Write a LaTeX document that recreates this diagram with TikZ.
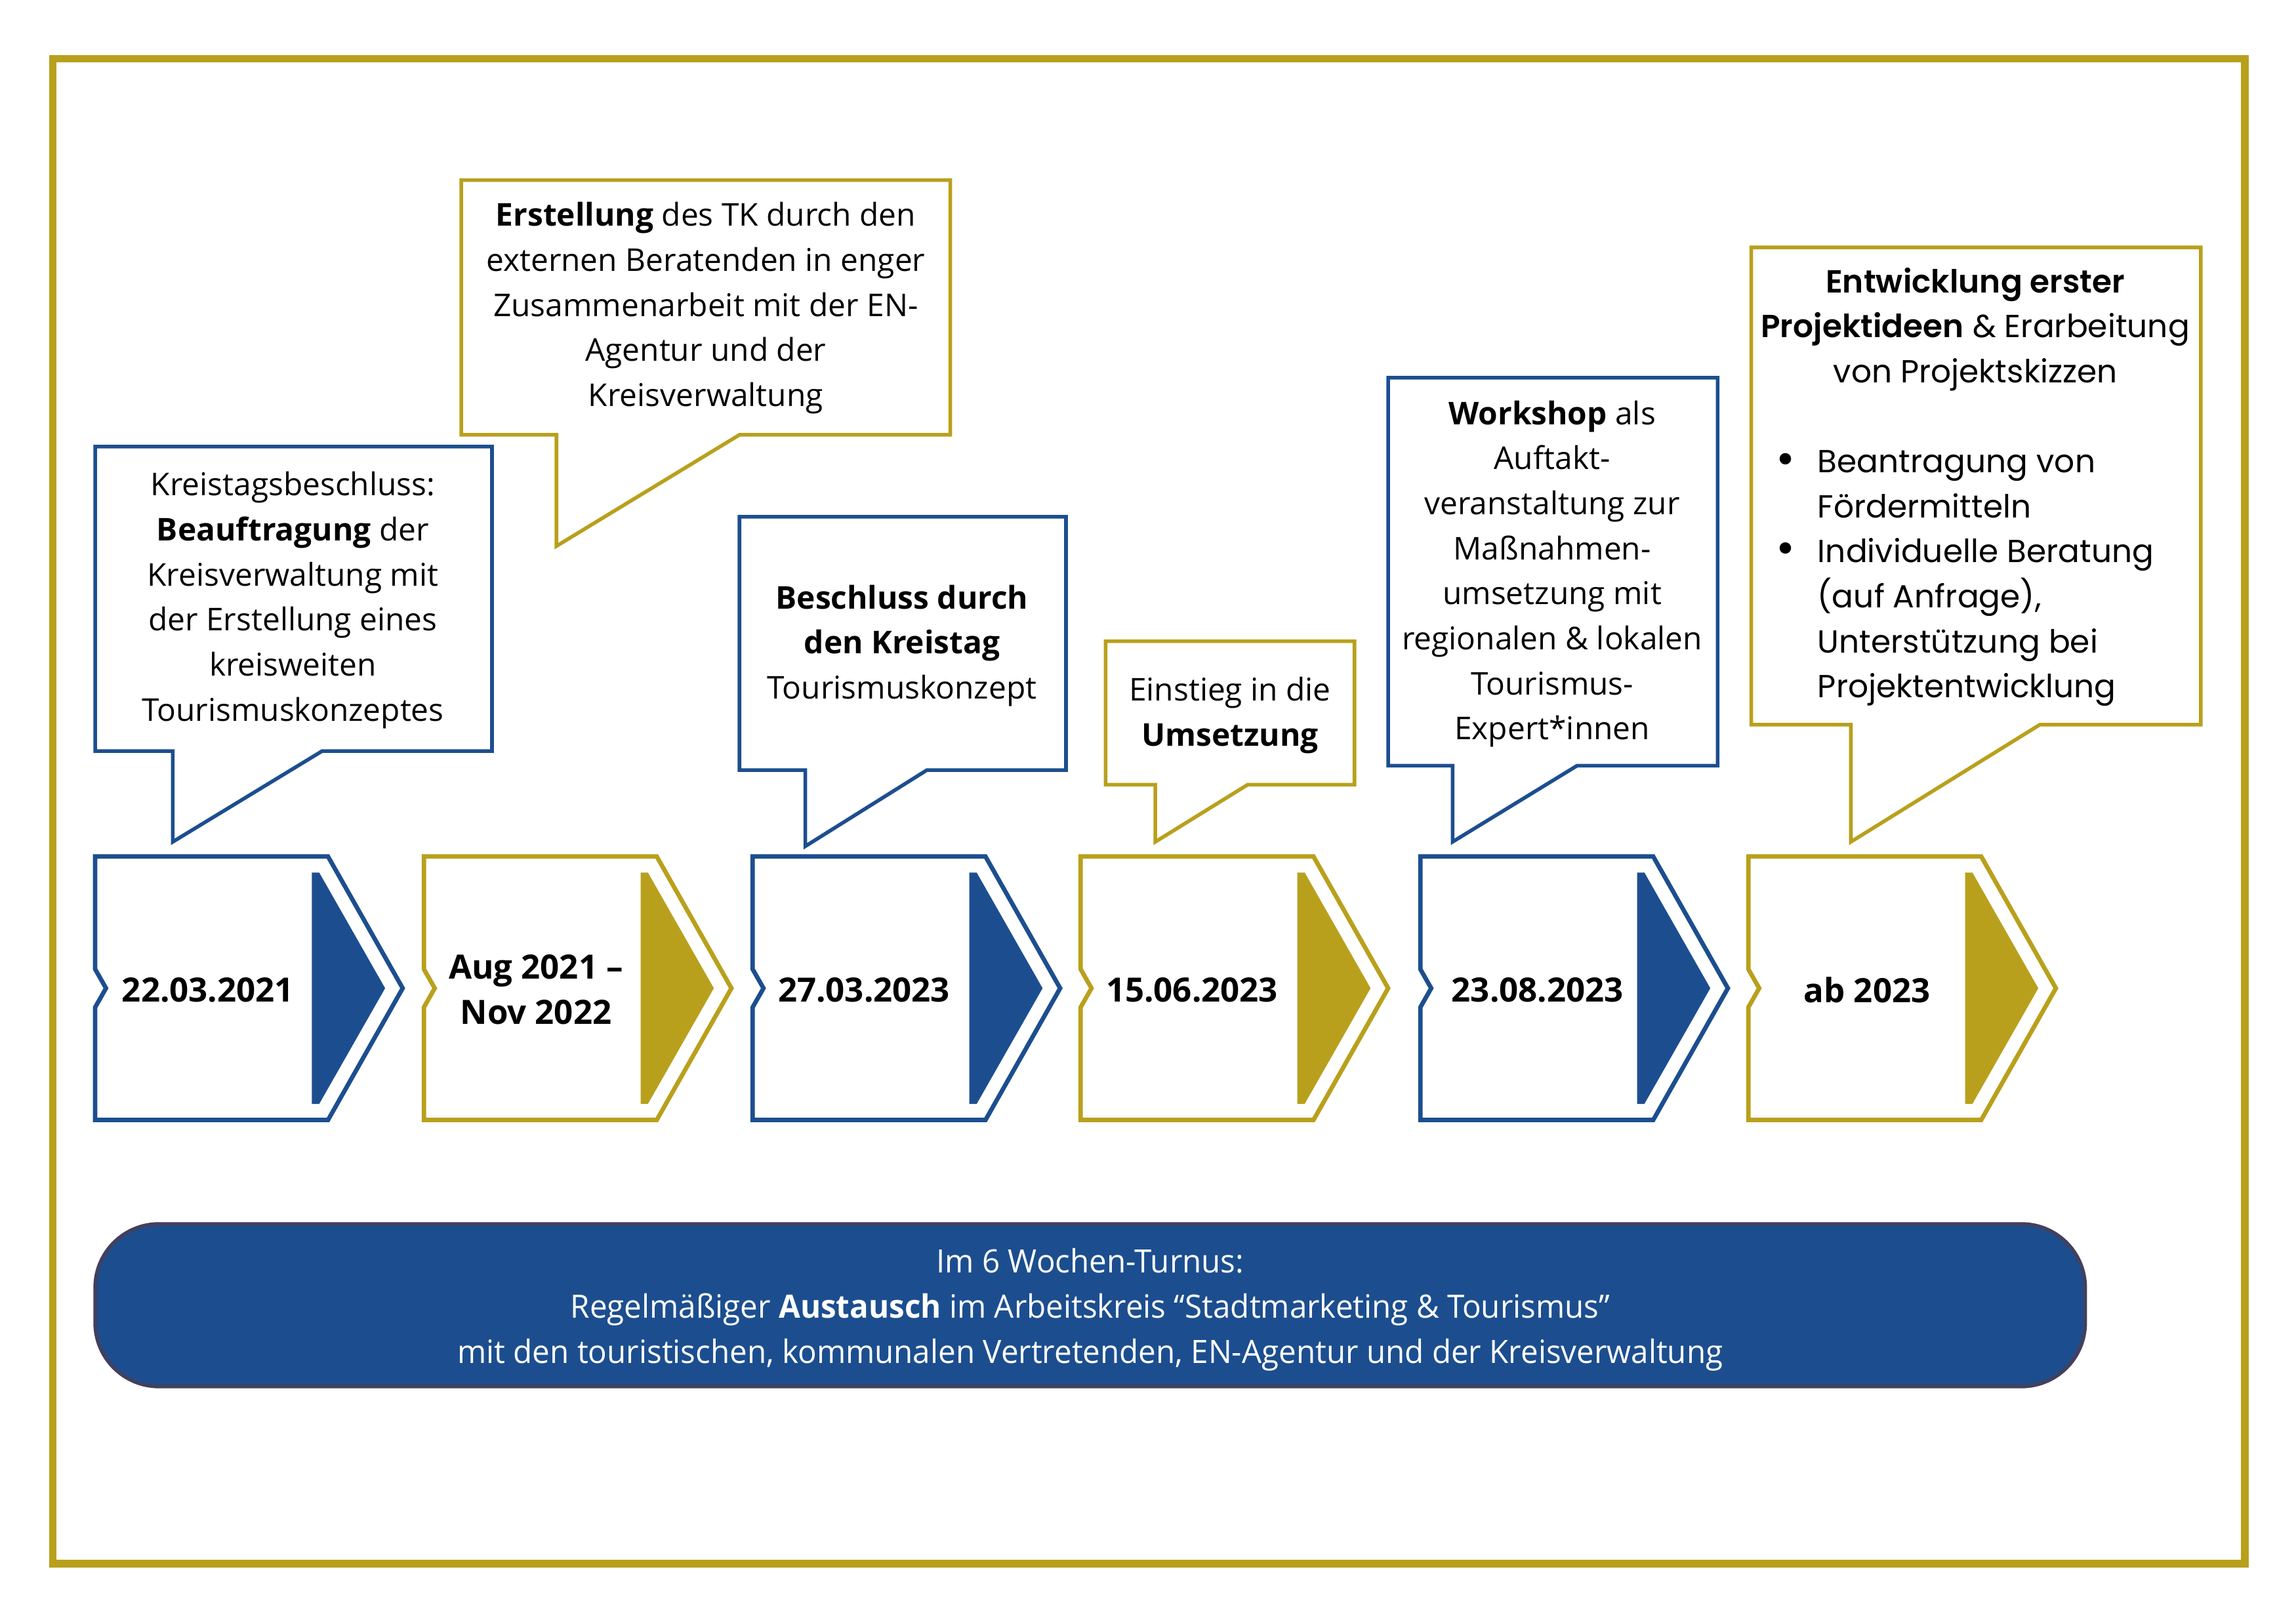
\documentclass[tikz,border=0pt]{standalone}
\usepackage{fontspec}
\setmainfont{Open Sans}
\newfontfamily\popfont[BoldFont={Poppins SemiBold}]{Poppins}
\newfontfamily\condfont[FakeStretch=0.97]{Open Sans}
\definecolor{tblue}{HTML}{1C4E8F}
\definecolor{tgold}{HTML}{B9A01C}
\definecolor{pillborder}{HTML}{42405E}
\tikzset{
  bluecall/.style={draw=tblue, line width=0.5mm, fill=white, line join=miter},
  goldcall/.style={draw=tgold, line width=0.5mm, fill=white, line join=miter},
  calltext/.style={font=\fontsize{12.2}{17.5}\selectfont, align=center, inner sep=0pt},
  poptext/.style={font=\popfont\fontsize{12.4}{17.5}\selectfont, inner sep=0pt},
  bullettext/.style={font=\popfont\fontsize{18}{18}\selectfont, inner sep=0pt},
  datetext/.style={font=\bfseries\fontsize{13}{17.5}\selectfont, align=center, inner sep=0pt},
  pilltext/.style={font=\condfont\fontsize{12.5}{17.5}\selectfont, align=center, inner sep=0pt, text=white},
}
\newcommand\mychev[2]{%
  \begin{scope}[shift={(#1,0)}]
    \draw[#2, line width=0.6mm, fill=white, line join=miter]
      (0,585) -- (159,585) -- (210,675) -- (159,765) -- (0,765) -- (0,688) -- (7.4,675) -- (0,662) -- cycle;
    \fill[#2] (148,596) -- (153,596) -- (198,675) -- (153,754) -- (148,754) -- cycle;
  \end{scope}}
\begin{document}
\begin{tikzpicture}[x=0.2mm,y=-0.2mm]
  \useasboundingbox (0,0) rectangle (1568,1109);
  \fill[white] (0,0) rectangle (1568,1109);
  % outer frame
  \draw[tgold, line width=1mm] (36,40) rectangle (1533,1068);

  % callouts
  \draw[bluecall] (65,305) -- (336,305) -- (336,513) -- (220,513) -- (118,575) -- (118,513) -- (65,513) -- cycle;
  \draw[goldcall] (315,123) -- (649,123) -- (649,297) -- (505,297) -- (380,373) -- (380,297) -- (315,297) -- cycle;
  \draw[bluecall] (505,353) -- (728,353) -- (728,526) -- (633,526) -- (550,578) -- (550,526) -- (505,526) -- cycle;
  \draw[goldcall] (755,438) -- (925,438) -- (925,536) -- (852,536) -- (789,575) -- (789,536) -- (755,536) -- cycle;
  \draw[bluecall] (948,258) -- (1173,258) -- (1173,523) -- (1077,523) -- (992,575) -- (992,523) -- (948,523) -- cycle;
  \draw[goldcall] (1196,169) -- (1503,169) -- (1503,495) -- (1393,495) -- (1264,575) -- (1264,495) -- (1196,495) -- cycle;

  \node[calltext] (c1) at (200,410) {Kreistagsbeschluss:\\\textbf{Beauftragung} der\\Kreisverwaltung mit\\der Erstellung eines\\kreisweiten\\Tourismuskonzeptes};
  \node[calltext] (c2) at (482,210.5) {\textbf{Erstellung} des TK durch den\\externen Beratenden in enger\\Zusammenarbeit mit der EN-\\Agentur und der\\Kreisverwaltung};
  \node[calltext] (c3) at (616,441) {\textbf{Beschluss durch}\\\textbf{den Kreistag}\\Tourismuskonzept};
  \node[calltext] (c4) at (840,488.5) {Einstieg in die\\\textbf{Umsetzung}};
  \node[calltext] (c5) at (1060,392) {\textbf{Workshop} als\\Auftakt-\\veranstaltung zur\\Maßnahmen-\\umsetzung mit\\regionalen \& lokalen\\Tourismus-\\Expert*innen};
  \node[poptext, align=center] (c6h) at (1349,225) {\textbf{Entwicklung erster}\\\textbf{Projektideen} \& Erarbeitung\\von Projektskizzen};
  \node[poptext, align=left, anchor=west] (c6l) at (1241,395) {Beantragung von\\Fördermitteln\\Individuelle Beratung\\(auf Anfrage),\\Unterstützung bei\\Projektentwicklung};
  \node[bullettext] (b1) at (1219.5,317) {•};
  \node[bullettext] (b2) at (1219.5,378) {•};

  % chevrons
  \mychev{65}{tblue}
  \mychev{289.5}{tgold}
  \mychev{514}{tblue}
  \mychev{738}{tgold}
  \mychev{970}{tblue}
  \mychev{1194}{tgold}
  \node[datetext] (d1) at (142,676) {22.03.2021};
  \node[datetext] (d2) at (366,676) {Aug 2021 –\\Nov 2022};
  \node[datetext] (d3) at (590,676) {27.03.2023};
  \node[datetext] (d4) at (814,676) {15.06.2023};
  \node[datetext] (d5) at (1050,676) {23.08.2023};
  \node[datetext] (d6) at (1275,676) {ab 2023};

  % pill
  \draw[pillborder, line width=0.5mm, fill=tblue, rounded corners=8.7mm] (65,836) rectangle (1424,947);
  \node[pilltext] (p) at (744.5,894.5) {Im 6 Wochen-Turnus:\\Regelmäßiger \textbf{Austausch} im Arbeitskreis “Stadtmarketing \& Tourismus”\\mit den touristischen, kommunalen Vertretenden, EN-Agentur und der Kreisverwaltung};
\end{tikzpicture}
\end{document}
